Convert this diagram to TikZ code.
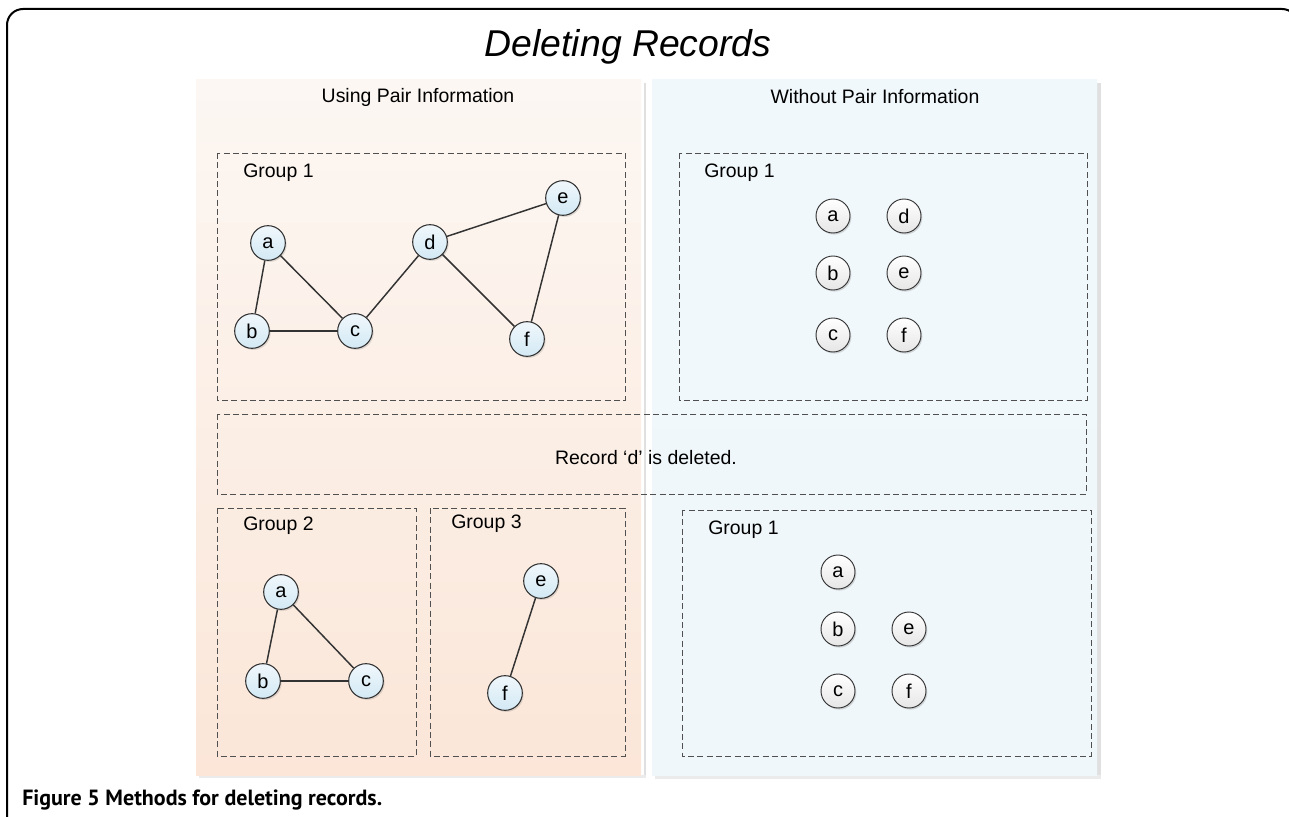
\documentclass[tikz,border=0pt]{standalone}
\usepackage{fontspec}
\setmainfont{Liberation Sans}
\newfontfamily\capfont{PT Sans}
\usetikzlibrary{shadows}
\definecolor{edgec}{HTML}{333333}
\definecolor{boxc}{HTML}{505050}
\definecolor{lpTop}{HTML}{FCF7F3}
\definecolor{lpBot}{HTML}{FBE6D8}
\definecolor{rpTop}{HTML}{F1F8FC}
\definecolor{rpBot}{HTML}{F0F7FB}
\definecolor{bnTop}{HTML}{F0F7FB}
\definecolor{bnBot}{HTML}{D3E9F5}
\definecolor{wnBot}{HTML}{E6E6E6}
\tikzset{
  bnode/.style={circle, draw=edgec, line width=0.8pt, minimum size=26pt, inner sep=0pt,
    top color=bnTop, bottom color=bnBot, font=\fontsize{15pt}{17pt}\selectfont,
    drop shadow={shadow xshift=1pt, shadow yshift=-1.2pt, opacity=0.25}},
  wnode/.style={circle, draw=edgec, line width=0.7pt, minimum size=25.5pt, inner sep=0pt,
    top color=white, bottom color=wnBot, font=\fontsize{15pt}{17pt}\selectfont,
    drop shadow={shadow xshift=1pt, shadow yshift=-1.2pt, opacity=0.3}},
  edgeline/.style={draw=edgec, line width=1.1pt},
  grpbox/.style={draw=boxc, line width=0.6pt, dash pattern=on 4.5pt off 2.5pt},
  lbl/.style={font=\fontsize{14.6pt}{17pt}\selectfont, inner sep=0pt},
}
\begin{document}
\begin{tikzpicture}[x=0.75pt, y=-0.75pt]
\useasboundingbox (0,0) rectangle (1289,817);
\clip (0,0) rectangle (1289,817);
% outer frame
\draw[line width=1.5pt, rounded corners=12pt] (7,9) rectangle (1298,840);
% title
\node[font=\fontsize{28pt}{32pt}\selectfont\itshape, inner sep=0pt, anchor=base] (title) at (628,57) {Deleting Records};
% panels with shadows
\fill[black!12] (644,83) rectangle (646,778);
\fill[black!8] (199,775) rectangle (646,778);
\fill[top color=lpTop, bottom color=lpBot] (196,80) rectangle (641,775);
\fill[black!12] (1097,83) rectangle (1101,778);
\fill[black!8] (655,775) rectangle (1101,779);
\fill[top color=rpTop, bottom color=rpBot] (652,80) rectangle (1097,775);
% headers
\node[lbl] (hL) at (418,97) {Using Pair Information};
\node[lbl] (hR) at (875,97) {Without Pair Information};
% dashed boxes
\draw[grpbox] (217,153) rectangle (625,400);
\draw[grpbox] (679,153) rectangle (1087,400);
\draw[grpbox] (217,414) rectangle (1086,494);
\draw[grpbox] (217,508) rectangle (416,756);
\draw[grpbox] (430,508) rectangle (625,756);
\draw[grpbox] (682,510) rectangle (1091,756);
% labels
\node[lbl, anchor=west] (gL1) at (243,173) {Group 1};
\node[lbl, anchor=west] (gR1) at (704,173) {Group 1};
\node[lbl] (rec) at (646,458) {Record ‘d’ is deleted.};
\node[lbl, anchor=west] (gL2) at (243,526) {Group 2};
\node[lbl, anchor=west] (gL3) at (451,524) {Group 3};
\node[lbl, anchor=west] (gR1b) at (708,530) {Group 1};
% left group 1 graph
\node[bnode] (La) at (268,243) {a};
\node[bnode] (Lb) at (252,331) {b};
\node[bnode] (Lc) at (355,331) {c};
\node[bnode] (Ld) at (430,242) {d};
\node[bnode] (Le) at (563,198) {e};
\node[bnode] (Lf) at (527,339) {f};
\draw[edgeline] (La) -- (Lb);
\draw[edgeline] (La) -- (Lc);
\draw[edgeline] (Lb) -- (Lc);
\draw[edgeline] (Lc) -- (Ld);
\draw[edgeline] (Ld) -- (Le);
\draw[edgeline] (Ld) -- (Lf);
\draw[edgeline] (Le) -- (Lf);
% right group 1
\node[wnode] (Ra) at (833,216) {a};
\node[wnode] (Rd) at (904,216) {d};
\node[wnode] (Rb) at (833,273) {b};
\node[wnode] (Re) at (904,273) {e};
\node[wnode] (Rc) at (833,335) {c};
\node[wnode] (Rf) at (904,335) {f};
% group 2
\node[bnode] (Ga) at (281,592) {a};
\node[bnode] (Gb) at (263,681) {b};
\node[bnode] (Gc) at (366,681) {c};
\draw[edgeline] (Ga) -- (Gb);
\draw[edgeline] (Ga) -- (Gc);
\draw[edgeline] (Gb) -- (Gc);
% group 3
\node[bnode] (He) at (541,581) {e};
\node[bnode] (Hf) at (505,693) {f};
\draw[edgeline] (He) -- (Hf);
% right bottom group 1
\node[wnode] (Sa) at (838,572) {a};
\node[wnode] (Sb) at (838,629) {b};
\node[wnode] (Se) at (909,629) {e};
\node[wnode] (Sc) at (838,691) {c};
\node[wnode] (Sf) at (909,691) {f};
% caption
\node[anchor=west, inner sep=0pt, font=\capfont\bfseries\fontsize{16.5pt}{19pt}\selectfont] (cap) at (22,800) {Figure 5 Methods for deleting records.};
\end{tikzpicture}
\end{document}
